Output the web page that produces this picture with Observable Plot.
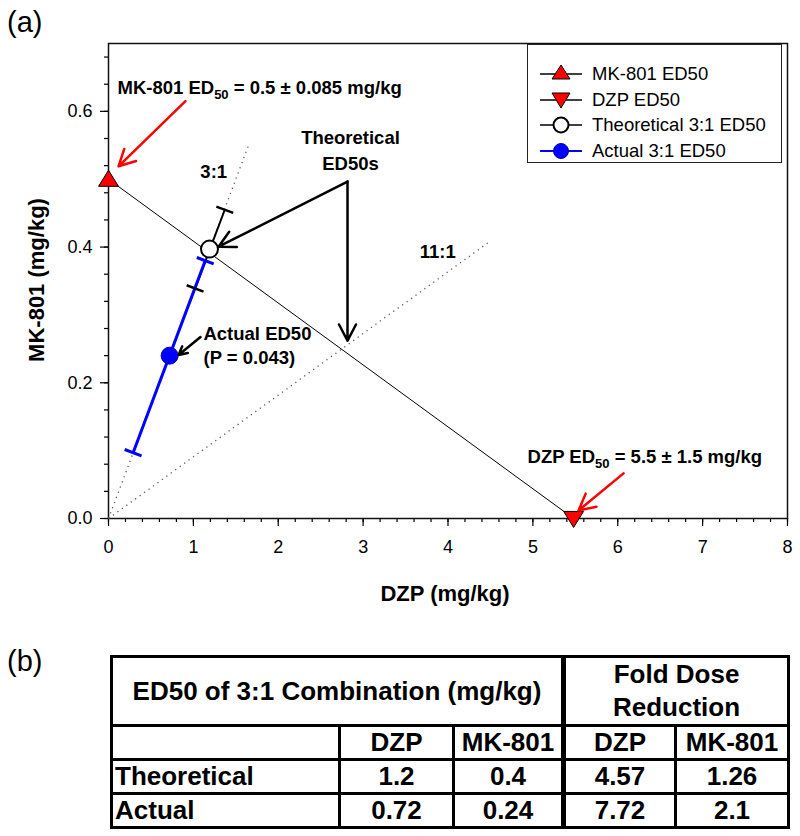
<!DOCTYPE html>
<html><head><meta charset="utf-8">
<script src="https://cdn.jsdelivr.net/npm/d3@7"></script>
<script src="https://cdn.jsdelivr.net/npm/@observablehq/plot@0.6"></script>
<style>
body{margin:0;background:#fff;font-family:Arial,"Liberation Sans",sans-serif;}
#wrap{position:relative;width:800px;height:836px;overflow:hidden;}
#chart{position:absolute;left:0;top:0;}
.panel{position:absolute;font-size:29px;color:#000;line-height:1;}
.atitle{position:absolute;font-size:22px;font-weight:bold;white-space:nowrap;line-height:1;}
#legend{position:absolute;left:527px;top:44px;width:255px;height:119px;border:1.5px solid #222;background:#fff;box-sizing:border-box;}
.lrow{position:absolute;left:12px;height:24px;display:flex;align-items:center;font-size:18.5px;}
.lrow svg{margin-right:10px;}
#tbl{position:absolute;left:110px;top:655px;width:677px;border-collapse:collapse;table-layout:fixed;font-weight:bold;font-size:26px;}
#tbl td{border:3px solid #000;padding:0 2px;text-align:center;line-height:31px;}
#tbl td.lab{text-align:left;}
#tbl td.sep{border-left:5px solid #000;}
#tbl tr.h1 td{height:59px;line-height:33px;}
#tbl tr.h2 td{height:29px;}
#tbl tr.d td{height:29px;}
</style></head><body><div id="wrap"></div>
<script>
// ---------- data ----------
const xTicks = [0, 1, 2, 3, 4, 5, 6, 7, 8];
const yTicks = [0, 0.2, 0.4, 0.6];
const xMinor = [0,0.2,0.4,0.6,0.8,1,1.2,1.4,1.6,1.8,2,2.2,2.4,2.6,2.8,3,3.2,3.4,3.6,3.8,4,4.2,4.4,4.6,4.8,5,5.2,5.4,5.6,5.8,6,6.2,6.4,6.6,6.8,7,7.2,7.4,7.6,7.8,8];
const yMinor = [0,0.04,0.08,0.12,0.16,0.2,0.24,0.28,0.32,0.36,0.4,0.44,0.48,0.52,0.56,0.6,0.64,0.68];

// single-drug ED50s (DZP mg/kg, MK-801 mg/kg)
const mkED50 = {dzp: 0, mk: 0.5};
const dzpED50 = {dzp: 5.48, mk: 0};

// fixed-ratio rays drawn from origin
const rayNames = ["3:1", "11:1"];
const rayEndDZP = [1.65, 4.5];
const rayEndMK = [0.55, 0.409];
const rayLabelDZP = [1.24, 3.88];
const rayLabelMK = [0.51, 0.393];

// 3:1 combination ED50s and error bars along the ray
const comboNames = ["Theoretical", "Actual"];
const comboDZP = [1.19, 0.72];
const comboMK = [0.397, 0.24];
const errLoDZP = [1.02, 0.29];
const errLoMK = [0.339, 0.097];
const errHiDZP = [1.37, 1.14];
const errHiMK = [0.455, 0.38];

// table
const tableCols = ["DZP", "MK-801", "DZP", "MK-801"];
const tableRows = ["Theoretical", "Actual"];
const tableED50DZP = ["1.2", "0.72"];
const tableED50MK = ["0.4", "0.24"];
const tableFoldDZP = ["4.57", "7.72"];
const tableFoldMK = ["1.26", "2.1"];

// ---------- layout ----------
const W = 800, H = 620, ML = 108, MR = 13, MT = 43, MB = 102;
const xDomain = [0, 8], yDomain = [0, 0.7];
const kx = (W - ML - MR) / (xDomain[1] - xDomain[0]);
const ky = (H - MT - MB) / (yDomain[1] - yDomain[0]);
const FONT = "Arial, 'Liberation Sans', sans-serif";

function capAt(cx, cy, dx, dy, half) {
  const px = dy * ky, py = dx * kx;
  const n = Math.hypot(px, py);
  const ux = px / n * half, uy = py / n * half;
  return {x1: cx - ux / kx, y1: cy + uy / ky, x2: cx + ux / kx, y2: cy - uy / ky};
}

const combos = comboNames.map((name, i) => ({
  name, x: comboDZP[i], y: comboMK[i],
  lx: errLoDZP[i], ly: errLoMK[i], hx: errHiDZP[i], hy: errHiMK[i]
}));
const caps = [];
combos.forEach(c => {
  const dx = c.hx - c.lx, dy = c.hy - c.ly;
  caps.push({name: c.name, ...capAt(c.lx, c.ly, dx, dy, 9)});
  caps.push({name: c.name, ...capAt(c.hx, c.hy, dx, dy, 9)});
});
const rays = rayNames.map((n, i) => ({n, x2: rayEndDZP[i], y2: rayEndMK[i], lx: rayLabelDZP[i], ly: rayLabelMK[i]}));

const triUp = {draw(ctx, size) { const r = Math.sqrt(size / Math.PI); const s = r * 1.35; ctx.moveTo(0, -s*0.95); ctx.lineTo(s*1.05, s*0.75); ctx.lineTo(-s*1.05, s*0.75); ctx.closePath(); }};
const triDown = {draw(ctx, size) { const r = Math.sqrt(size / Math.PI); const s = r * 1.35; ctx.moveTo(0, s*0.95); ctx.lineTo(s*1.05, -s*0.75); ctx.lineTo(-s*1.05, -s*0.75); ctx.closePath(); }};

// annotation positions (data coords)
const annStart = [
  {t: "MK-801 ED50 = 0.5 ± 0.085 mg/kg", x: 0.106, y: 0.637},
  {t: "DZP ED50 = 5.5 ± 1.5 mg/kg", x: 4.937, y: 0.093},
  {t: "Actual ED50\n(P = 0.043)", x: 1.119, y: 0.257}
];
const annMiddle = [
  {t: "Theoretical\nED50s", x: 2.851, y: 0.545}
];
const redArrows = [
  {x1: 0.907, y1: 0.615, x2: 0.118, y2: 0.519},
  {x1: 6.068, y1: 0.0665, x2: 5.538, y2: 0.0118}
];
const blackArrows = [
  {x1: 2.816, y1: 0.4965, x2: 1.296, y2: 0.4005},
  {x1: 2.816, y1: 0.4965, x2: 2.816, y2: 0.262},
  {x1: 1.084, y1: 0.2675, x2: 0.825, y2: 0.2409}
];

const plot = Plot.plot({
  width: W, height: H,
  marginLeft: ML, marginRight: MR, marginTop: MT, marginBottom: MB,
  style: {fontFamily: FONT, background: "white", color: "#000"},
  x: {domain: xDomain},
  y: {domain: yDomain},
  marks: [
    Plot.axisX(xMinor, {tickSize: 4, tickFormat: () => "", label: null, strokeWidth: 1.2}),
    Plot.axisY(yMinor, {tickSize: 4, tickFormat: () => "", label: null, strokeWidth: 1.2}),
    Plot.axisX(xTicks, {tickSize: 8, tickPadding: 14, fontSize: 18, label: null, strokeWidth: 1.2}),
    Plot.axisY(yTicks, {tickSize: 8, tickPadding: 8, fontSize: 18, tickFormat: d3.format(".1f"), label: null, strokeWidth: 1.2}),
    Plot.frame({stroke: "#111", strokeWidth: 1.5}),
    // rays
    Plot.link(rays, {x1: 0, y1: 0, x2: "x2", y2: "y2", stroke: "#555", strokeWidth: 1.3, strokeDasharray: "1.2,4.3"}),
    Plot.text(rays, {x: "lx", y: "ly", text: "n", fontSize: 18.5, fontWeight: "bold"}),
    // isobole
    Plot.line([mkED50, dzpED50], {x: "dzp", y: "mk", stroke: "#000", strokeWidth: 1}),
    // error bars
    Plot.link(combos, {x1: "lx", y1: "ly", x2: "hx", y2: "hy", stroke: d => d.name === "Actual" ? "#0000ff" : "#000", strokeWidth: d => d.name === "Actual" ? 3 : 2}),
    Plot.link(caps, {x1: "x1", y1: "y1", x2: "x2", y2: "y2", stroke: d => d.name === "Actual" ? "#0000ff" : "#000", strokeWidth: d => d.name === "Actual" ? 3 : 2.5}),
    // points
    Plot.dot(combos, {x: "x", y: "y", r: 8.5, fill: d => d.name === "Actual" ? "#0000ff" : "#fff", stroke: d => d.name === "Actual" ? "#0000aa" : "#000", strokeWidth: d => d.name === "Actual" ? 1 : 2}),
    Plot.dot([mkED50], {x: "dzp", y: "mk", r: 7, symbol: triUp, fill: "#ff0000", stroke: "#000", strokeWidth: 1}),
    Plot.dot([dzpED50], {x: "dzp", y: "mk", r: 7, symbol: triDown, fill: "#ff0000", stroke: "#000", strokeWidth: 1}),
    // arrows
    Plot.arrow(redArrows, {x1: "x1", y1: "y1", x2: "x2", y2: "y2", stroke: "#ff0000", strokeWidth: 2.5, headLength: 11, headAngle: 55}),
    Plot.arrow(blackArrows, {x1: "x1", y1: "y1", x2: "x2", y2: "y2", stroke: "#000", strokeWidth: 2.5, headLength: 11, headAngle: 55}),
    // annotation texts
    Plot.text(annStart, {x: "x", y: "y", text: "t", textAnchor: "start", fontSize: 18.5, fontWeight: "bold", lineHeight: 1.3}),
    Plot.text(annMiddle, {x: "x", y: "y", text: "t", textAnchor: "middle", fontSize: 18.5, fontWeight: "bold", lineHeight: 1.4})
  ]
});
plot.id = "chart";

// subscripts for ED50 in annotations
d3.select(plot).selectAll("text").each(function () {
  const t = this.textContent;
  if (t.includes("ED50 =")) {
    const idx = t.indexOf("ED50");
    const pre = t.slice(0, idx + 2), post = t.slice(idx + 4);
    const sel = d3.select(this);
    sel.text("");
    sel.append("tspan").text(pre);
    sel.append("tspan").attr("font-size", 13).attr("dy", 5).text("50");
    sel.append("tspan").attr("dy", -5).text(post);
  }
});

const wrap = document.getElementById("wrap");
wrap.appendChild(plot);

// axis titles
const yt = document.createElement("div");
yt.className = "atitle"; yt.textContent = "MK-801 (mg/kg)";
yt.style.left = "37px"; yt.style.top = "280px";
yt.style.transform = "translate(-50%,-50%) rotate(-90deg)";
wrap.appendChild(yt);
const xt = document.createElement("div");
xt.className = "atitle"; xt.textContent = "DZP (mg/kg)";
xt.style.left = "445px"; xt.style.top = "594px";
xt.style.transform = "translate(-50%,-50%)";
wrap.appendChild(xt);

// panel labels
for (const [lab, top] of [["(a)", 8], ["(b)", 647]]) {
  const d = document.createElement("div");
  d.className = "panel"; d.textContent = lab;
  d.style.left = "7px"; d.style.top = top + "px";
  wrap.appendChild(d);
}

// legend
const legendItems = [
  {label: "MK-801 ED50", line: "#000", sym: "up", fill: "#ff0000", stroke: "#000"},
  {label: "DZP ED50", line: "#000", sym: "down", fill: "#ff0000", stroke: "#000"},
  {label: "Theoretical 3:1 ED50", line: "#000", sym: "circle", fill: "#fff", stroke: "#000"},
  {label: "Actual 3:1 ED50", line: "#0000ff", sym: "circle", fill: "#0000ff", stroke: "#0000aa"}
];
const leg = document.createElement("div");
leg.id = "legend";
legendItems.forEach((it, i) => {
  const row = document.createElement("div");
  row.className = "lrow";
  row.style.top = (17 + i * 25.5) + "px";
  let sym;
  if (it.sym === "up") sym = `<path d="M21,3 L30,17 L12,17 Z" fill="${it.fill}" stroke="${it.stroke}"/>`;
  else if (it.sym === "down") sym = `<path d="M21,20 L30,5 L12,5 Z" fill="${it.fill}" stroke="${it.stroke}"/>`;
  else sym = `<circle cx="21" cy="12" r="7.5" fill="${it.fill}" stroke="${it.stroke}" stroke-width="${it.fill === '#fff' ? 2 : 1}"/>`;
  row.innerHTML = `<svg width="42" height="24"><line x1="0" x2="42" y1="12" y2="12" stroke="${it.line}" stroke-width="${it.line === '#0000ff' ? 2 : 1.5}"/>${sym}</svg><span>${it.label}</span>`;
  leg.appendChild(row);
});
wrap.appendChild(leg);

// table
const tbl = document.createElement("table");
tbl.id = "tbl";
let html = `<colgroup><col style="width:228px"><col style="width:114px"><col style="width:110px"><col style="width:112px"><col style="width:113px"></colgroup>`;
html += `<tr class="h1"><td colspan="3">ED50 of 3:1 Combination (mg/kg)</td><td colspan="2" class="sep">Fold Dose<br>Reduction</td></tr>`;
html += `<tr class="h2"><td></td>` + tableCols.map((c, j) => `<td${j === 2 ? ' class="sep"' : ''}>${c}</td>`).join("") + `</tr>`;
tableRows.forEach((r, i) => {
  html += `<tr class="d"><td class="lab">${r}</td><td>${tableED50DZP[i]}</td><td>${tableED50MK[i]}</td><td class="sep">${tableFoldDZP[i]}</td><td>${tableFoldMK[i]}</td></tr>`;
});
tbl.innerHTML = html;
wrap.appendChild(tbl);
</script>
</body></html>
